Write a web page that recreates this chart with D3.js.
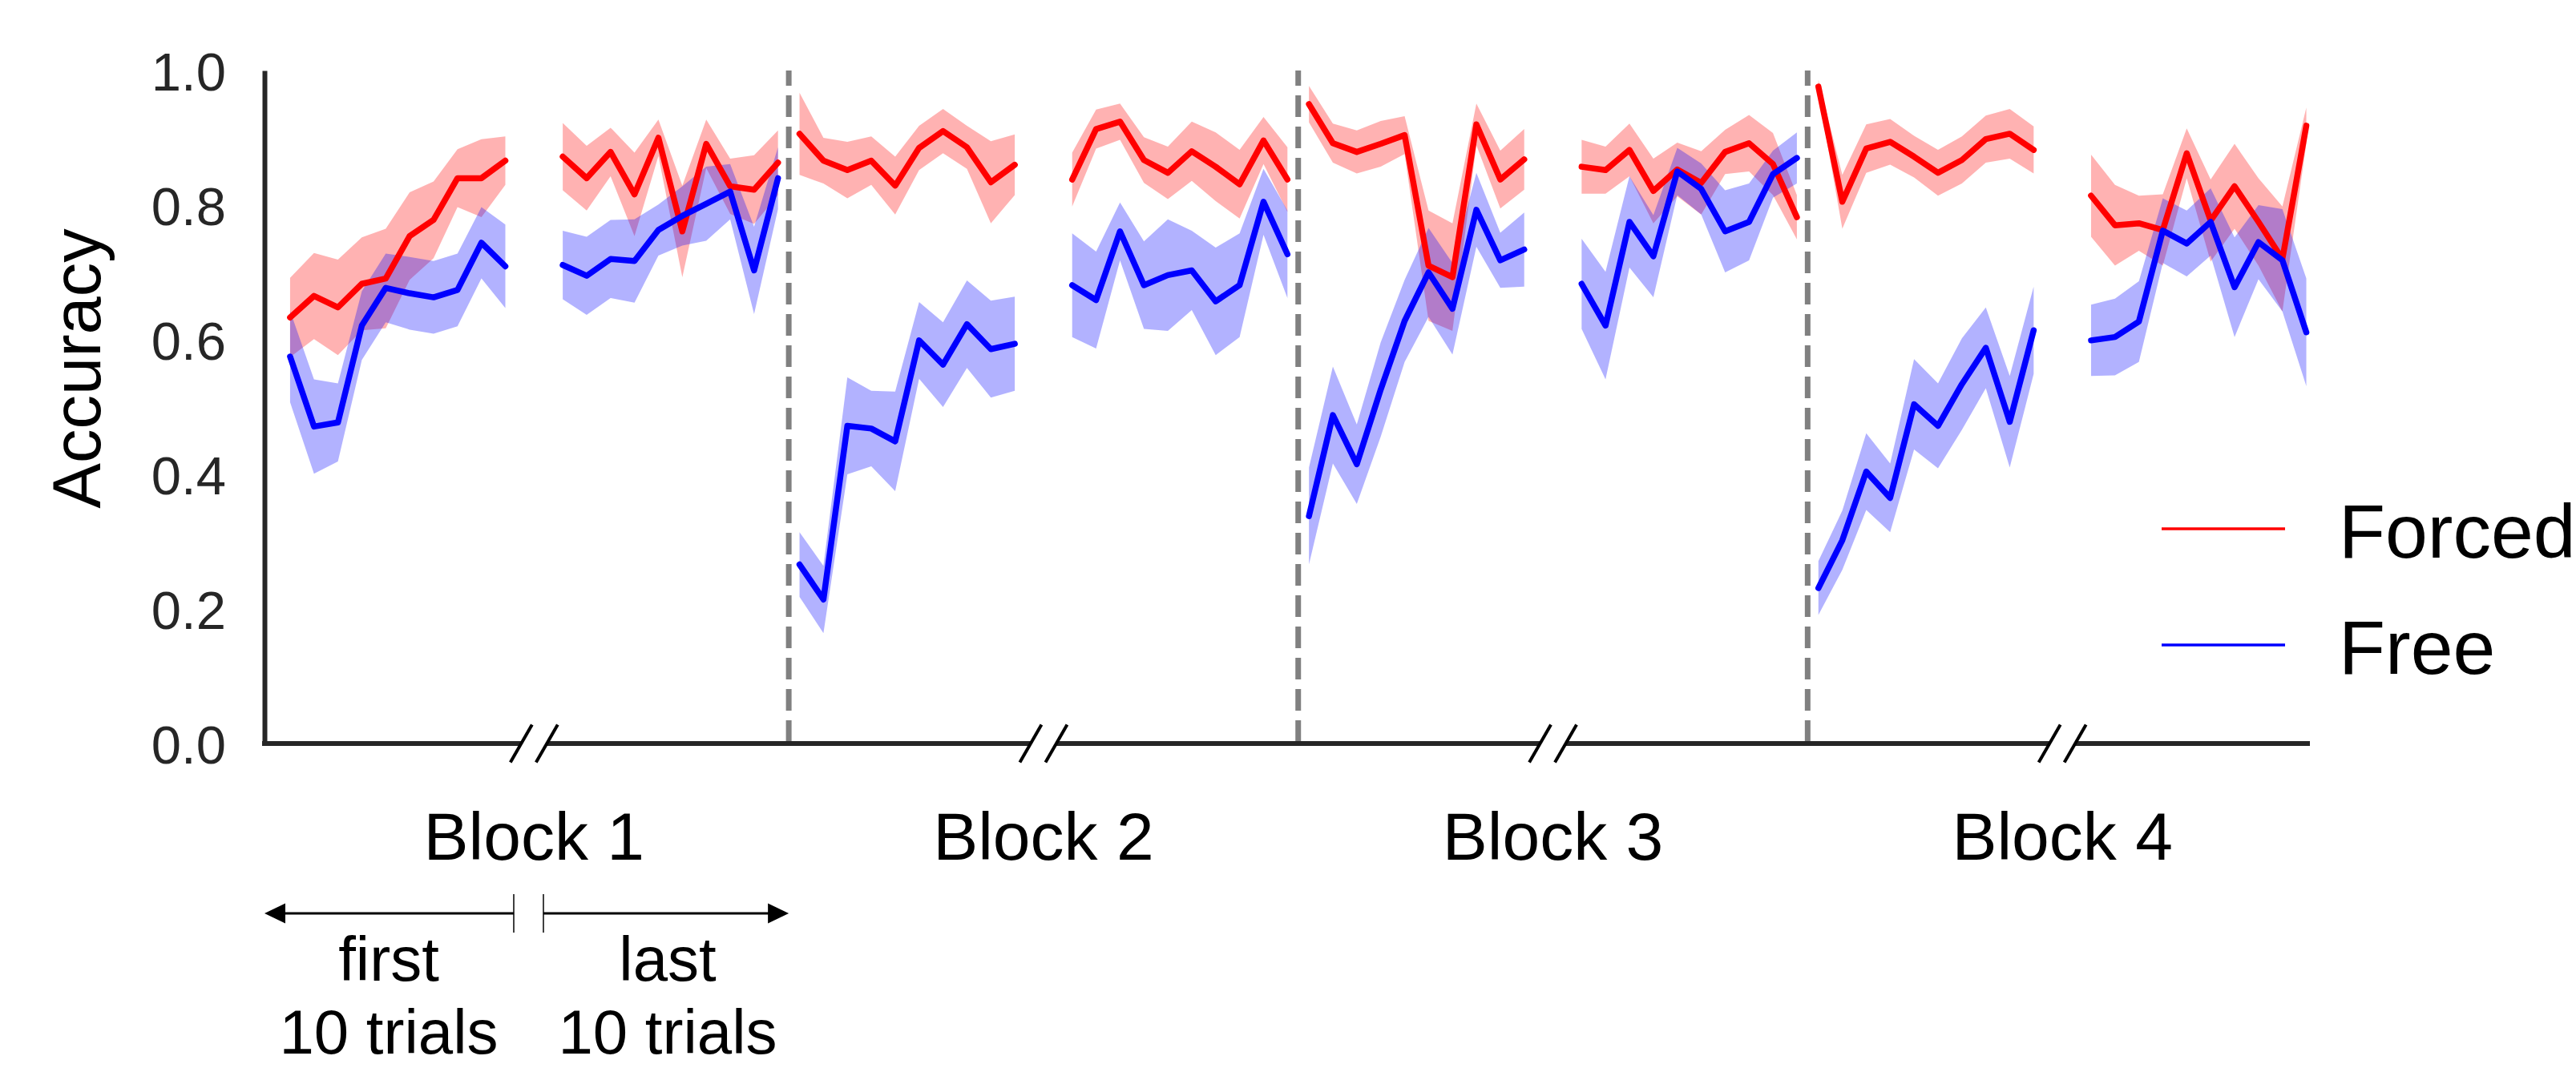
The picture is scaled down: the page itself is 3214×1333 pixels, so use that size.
<!DOCTYPE html>
<html>
<head>
<meta charset="utf-8">
<script src="https://cdn.jsdelivr.net/npm/d3@7"></script>
<style>
  body { margin: 0; background: #fff; }
  svg { display: block; font-family: "Liberation Sans", Arial, sans-serif; }
</style>
</head>
<body>
<div id="chart"></div>
<script>
// one row per block: first 10 trials, then last 10 trials
const blockLabels = ["Block 1", "Block 2", "Block 3", "Block 4"];
const yTicks = [0.0, 0.2, 0.4, 0.6, 0.8, 1.0];

const forcedMean = [
  [0.633, 0.665, 0.648, 0.683, 0.691, 0.754, 0.778, 0.840, 0.840, 0.866,
   0.872, 0.840, 0.879, 0.816, 0.900, 0.761, 0.891, 0.828, 0.823, 0.863],
  [0.906, 0.866, 0.852, 0.866, 0.829, 0.885, 0.910, 0.886, 0.834, 0.860,
   0.838, 0.913, 0.924, 0.867, 0.848, 0.880, 0.857, 0.831, 0.896, 0.838],
  [0.950, 0.892, 0.879, 0.891, 0.904, 0.710, 0.693, 0.920, 0.838, 0.868,
   0.857, 0.852, 0.882, 0.821, 0.853, 0.833, 0.879, 0.892, 0.861, 0.782],
  [0.976, 0.805, 0.884, 0.894, 0.872, 0.848, 0.867, 0.898, 0.906, 0.882,
   0.814, 0.770, 0.773, 0.763, 0.877, 0.777, 0.828, 0.775, 0.720, 0.918]
];
const forcedSem = [
  [0.059, 0.064, 0.071, 0.069, 0.074, 0.065, 0.057, 0.043, 0.058, 0.036,
   0.050, 0.048, 0.036, 0.062, 0.027, 0.068, 0.036, 0.041, 0.051, 0.048],
  [0.061, 0.034, 0.042, 0.036, 0.043, 0.033, 0.033, 0.032, 0.061, 0.045,
   0.040, 0.029, 0.027, 0.034, 0.039, 0.044, 0.051, 0.051, 0.035, 0.048],
  [0.027, 0.029, 0.032, 0.034, 0.028, 0.082, 0.080, 0.031, 0.043, 0.045,
   0.040, 0.035, 0.039, 0.048, 0.040, 0.047, 0.033, 0.042, 0.046, 0.033],
  [0.010, 0.040, 0.036, 0.034, 0.031, 0.034, 0.035, 0.035, 0.037, 0.035,
   0.061, 0.060, 0.041, 0.053, 0.037, 0.061, 0.063, 0.065, 0.078, 0.027]
];
const freeMean = [
  [0.575, 0.471, 0.477, 0.621, 0.677, 0.669, 0.663, 0.674, 0.744, 0.709,
   0.711, 0.695, 0.720, 0.717, 0.763, 0.784, 0.802, 0.820, 0.703, 0.840],
  [0.266, 0.214, 0.472, 0.468, 0.449, 0.599, 0.563, 0.623, 0.586, 0.594,
   0.681, 0.659, 0.761, 0.681, 0.696, 0.703, 0.657, 0.681, 0.805, 0.727],
  [0.338, 0.488, 0.415, 0.526, 0.628, 0.700, 0.646, 0.793, 0.718, 0.734,
   0.683, 0.621, 0.775, 0.724, 0.850, 0.824, 0.761, 0.775, 0.846, 0.870],
  [0.231, 0.302, 0.404, 0.365, 0.504, 0.472, 0.534, 0.588, 0.478, 0.614,
   0.599, 0.604, 0.627, 0.762, 0.743, 0.775, 0.678, 0.745, 0.718, 0.611]
];
const freeSem = [
  [0.068, 0.070, 0.058, 0.051, 0.051, 0.054, 0.054, 0.054, 0.053, 0.062,
   0.051, 0.058, 0.058, 0.062, 0.038, 0.044, 0.055, 0.041, 0.065, 0.046],
  [0.048, 0.050, 0.072, 0.056, 0.074, 0.057, 0.063, 0.065, 0.072, 0.070,
   0.077, 0.072, 0.043, 0.065, 0.083, 0.059, 0.080, 0.077, 0.049, 0.065],
  [0.072, 0.072, 0.059, 0.070, 0.061, 0.066, 0.068, 0.055, 0.041, 0.055,
   0.067, 0.080, 0.068, 0.061, 0.035, 0.038, 0.061, 0.057, 0.035, 0.038],
  [0.040, 0.044, 0.057, 0.051, 0.067, 0.063, 0.068, 0.060, 0.068, 0.065,
   0.053, 0.057, 0.060, 0.048, 0.049, 0.050, 0.074, 0.055, 0.076, 0.080]
];

const series = [
  { name: "Forced", color: "#ff0000", mean: forcedMean, sem: forcedSem },
  { name: "Free", color: "#0000ff", mean: freeMean, sem: freeSem }
];

const width = 3214;
const height = 1333;

// x position of trial i in block b (gap of 1.4 between first and last 10)
const blockPeriod = 21.3;
const inner = 1.4;
const trialPos = (b, i) => b * blockPeriod + (i < 10 ? i : i + inner);

const x = d3.scaleLinear().domain([-1.07, 84.45]).range([330, 2882]);
const y = d3.scaleLinear().domain([0, 1]).range([928, 88]);

const svg = d3.select("#chart")
  .append("svg")
  .attr("width", width)
  .attr("height", height)
  .attr("viewBox", [0, 0, width, height])
  .style("background", "#fff");

const area = d3.area()
  .x((d) => x(d.x))
  .y0((d) => y(d.m - d.s))
  .y1((d) => y(d.m + d.s));

const line = d3.line()
  .x((d) => x(d.x))
  .y((d) => y(d.m));

// split each block into its two runs of 10 trials
const segments = (s) => {
  const out = [];
  s.mean.forEach((row, b) => {
    [0, 10].forEach((start) => {
      out.push(d3.range(start, start + 10).map((i) => ({
        x: trialPos(b, i), m: row[i], s: s.sem[b][i]
      })));
    });
  });
  return out;
};

// bands first, then lines
series.forEach((s) => {
  svg.append("g")
    .selectAll("path")
    .data(segments(s))
    .join("path")
    .attr("d", area)
    .attr("fill", s.color)
    .attr("fill-opacity", 0.3)
    .attr("stroke", "none");
});

series.forEach((s) => {
  svg.append("g")
    .selectAll("path")
    .data(segments(s))
    .join("path")
    .attr("d", line)
    .attr("fill", "none")
    .attr("stroke", s.color)
    .attr("stroke-width", 7.5)
    .attr("stroke-linejoin", "round")
    .attr("stroke-linecap", "round");
});

// block separators
svg.append("g")
  .selectAll("line")
  .data([1, 2, 3])
  .join("line")
  .attr("x1", (b) => x(b * blockPeriod - 0.45))
  .attr("x2", (b) => x(b * blockPeriod - 0.45))
  .attr("y1", y(1))
  .attr("y2", y(0))
  .attr("stroke", "#808080")
  .attr("stroke-width", 7)
  .attr("stroke-dasharray", "27 12")
  .attr("stroke-dashoffset", 8);

// y axis
const yAxis = svg.append("g")
  .attr("transform", `translate(${x(-1.07)},0)`)
  .call(d3.axisLeft(y).tickValues(yTicks).tickFormat(d3.format(".1f")).tickSize(0).tickPadding(48));
yAxis.select(".domain").attr("stroke", "#262626").attr("stroke-width", 6);
yAxis.selectAll("text")
  .attr("fill", "#262626")
  .style("font-size", "67px")
  .attr("dy", "0.36em");

// x axis spine, broken at the "//" marks
const breakCenters = blockLabels.map((_, b) => x(b * blockPeriod + 10.2));
const cuts = breakCenters.map((c) => [c - 16, c + 16]);
const spineStops = [x(-1.07) - 3].concat(...cuts).concat([x(84.45)]);
const spineSegs = d3.range(0, spineStops.length, 2).map((k) => [spineStops[k], spineStops[k + 1]]);
svg.append("g")
  .selectAll("line")
  .data(spineSegs)
  .join("line")
  .attr("x1", (d) => d[0])
  .attr("x2", (d) => d[1])
  .attr("y1", y(0))
  .attr("y2", y(0))
  .attr("stroke", "#262626")
  .attr("stroke-width", 6);

// break marks
svg.append("g")
  .selectAll("line")
  .data(breakCenters.flatMap((c) => [c - 16, c + 16]))
  .join("line")
  .attr("x1", (c) => c - 13.5)
  .attr("x2", (c) => c + 13.5)
  .attr("y1", y(0) + 23.5)
  .attr("y2", y(0) - 23.5)
  .attr("stroke", "#000")
  .attr("stroke-width", 4);

// block labels
svg.append("g")
  .selectAll("text")
  .data(blockLabels)
  .join("text")
  .attr("x", (_, b) => x(b * blockPeriod + 10.2))
  .attr("y", 1073)
  .attr("text-anchor", "middle")
  .style("font-size", "84px")
  .attr("fill", "#000")
  .text((d) => d);

// y label
svg.append("text")
  .attr("transform", "translate(125,460) rotate(-90)")
  .attr("text-anchor", "middle")
  .style("font-size", "85px")
  .attr("fill", "#000")
  .text("Accuracy");

// first / last 10 trials annotation
const ann = svg.append("g");
const arrowY = 1140;
const barL = 641, barR = 678;
const leftTip = x(-1.07), rightTip = x(blockPeriod - 0.45);
ann.append("line")
  .attr("x1", leftTip + 20).attr("x2", barL)
  .attr("y1", arrowY).attr("y2", arrowY)
  .attr("stroke", "#000").attr("stroke-width", 3);
ann.append("line")
  .attr("x1", barR).attr("x2", rightTip - 20)
  .attr("y1", arrowY).attr("y2", arrowY)
  .attr("stroke", "#000").attr("stroke-width", 3);
ann.append("path")
  .attr("d", `M${leftTip},${arrowY}L${leftTip + 26},${arrowY - 12.5}L${leftTip + 26},${arrowY + 12.5}Z`)
  .attr("fill", "#000");
ann.append("path")
  .attr("d", `M${rightTip},${arrowY}L${rightTip - 26},${arrowY - 12.5}L${rightTip - 26},${arrowY + 12.5}Z`)
  .attr("fill", "#000");
ann.selectAll("line.bar")
  .data([barL, barR])
  .join("line")
  .attr("class", "bar")
  .attr("x1", (d) => d).attr("x2", (d) => d)
  .attr("y1", arrowY - 24).attr("y2", arrowY + 24)
  .attr("stroke", "#000").attr("stroke-width", 1.5);

const annText = [
  { x: 485, lines: ["first", "10 trials"] },
  { x: 833, lines: ["last", "10 trials"] }
];
annText.forEach((t) => {
  t.lines.forEach((l, i) => {
    ann.append("text")
      .attr("x", t.x)
      .attr("y", 1224 + i * 91)
      .attr("text-anchor", "middle")
      .style("font-size", "78px")
      .attr("fill", "#000")
      .text(l);
  });
});

// legend
const legend = svg.append("g");
const legendY = [660, 805];
series.forEach((s, i) => {
  legend.append("line")
    .attr("x1", 2697).attr("x2", 2851)
    .attr("y1", legendY[i]).attr("y2", legendY[i])
    .attr("stroke", s.color).attr("stroke-width", 3.5);
  legend.append("text")
    .attr("x", 2918)
    .attr("y", legendY[i] + 36)
    .style("font-size", "95px")
    .attr("fill", "#000")
    .text(s.name);
});
</script>
</body>
</html>
